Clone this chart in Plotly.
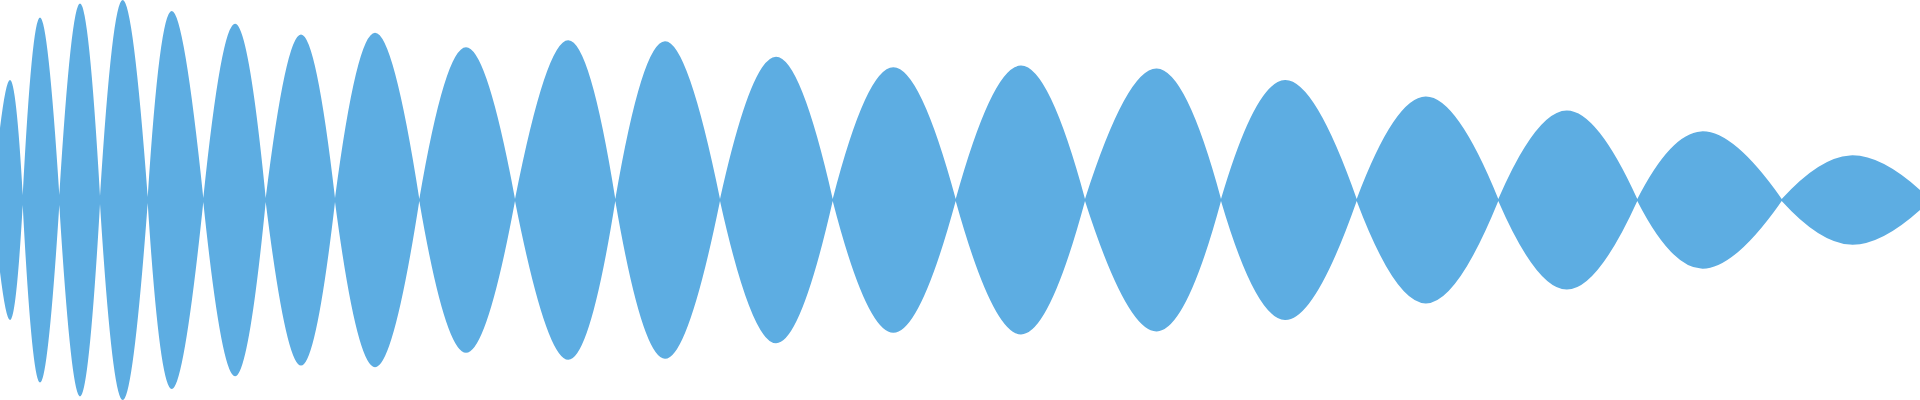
import plotly.graph_objects as go

# zero crossings (x position) and the envelope height left at each of them
edge_x = [0, 22.7, 59.3, 100, 147.7, 203.3, 265.7, 335, 419.3, 515, 615.3,
          720, 832.7, 955.7, 1085, 1221, 1356.7, 1498.3, 1637.3, 1781.7, 1920]
edge_amp = [0.36, 0.025, 0.025, 0.02, 0.015, 0.01, 0.01, 0.01, 0.005, 0.005, 0.005,
            0.005, 0.005, 0.005, 0.005, 0.005, 0.005, 0.005, 0.005, 0.005, 0.05]

# lobe peaks
peak_x = [10, 40, 80, 122.7, 171.7, 235, 301, 375, 466, 568.3,
          665, 776, 893.3, 1021, 1156.7, 1285, 1425.7, 1566.7, 1701, 1850]
peak_amp = [0.60, 0.913, 0.982, 1.0, 0.945, 0.881, 0.828, 0.836, 0.764, 0.799,
            0.794, 0.716, 0.664, 0.672, 0.657, 0.60, 0.517, 0.448, 0.343, 0.223]

wave_color = "#5DADE2"

# one spline segment per lobe, split with None so each lobe gets pointed ends
xs, top, bottom = [], [], []
for i in range(len(peak_x)):
    xs += [edge_x[i], peak_x[i], edge_x[i + 1], None]
    top += [edge_amp[i], peak_amp[i], edge_amp[i + 1], None]
    bottom += [-edge_amp[i], -peak_amp[i], -edge_amp[i + 1], None]

fig = go.Figure()
for ys in (top, bottom):
    fig.add_trace(go.Scatter(
        x=xs, y=ys, mode="lines",
        line=dict(shape="spline", smoothing=1.3, width=0, color=wave_color),
        fill="tozeroy", fillcolor=wave_color,
        connectgaps=False, hoverinfo="skip"))

fig.update_layout(
    width=1920, height=400,
    margin=dict(l=0, r=0, t=0, b=0),
    paper_bgcolor="white", plot_bgcolor="white",
    showlegend=False,
    xaxis=dict(visible=False, range=[0, 1920]),
    yaxis=dict(visible=False, range=[-1, 1]),
)

# drop the default page margin so the plot sits flush in the window
fig.write_html("out.html", config={"displayModeBar": False},
               post_script="document.body.style.margin='0';"
               "document.documentElement.style.overflow='hidden';")
